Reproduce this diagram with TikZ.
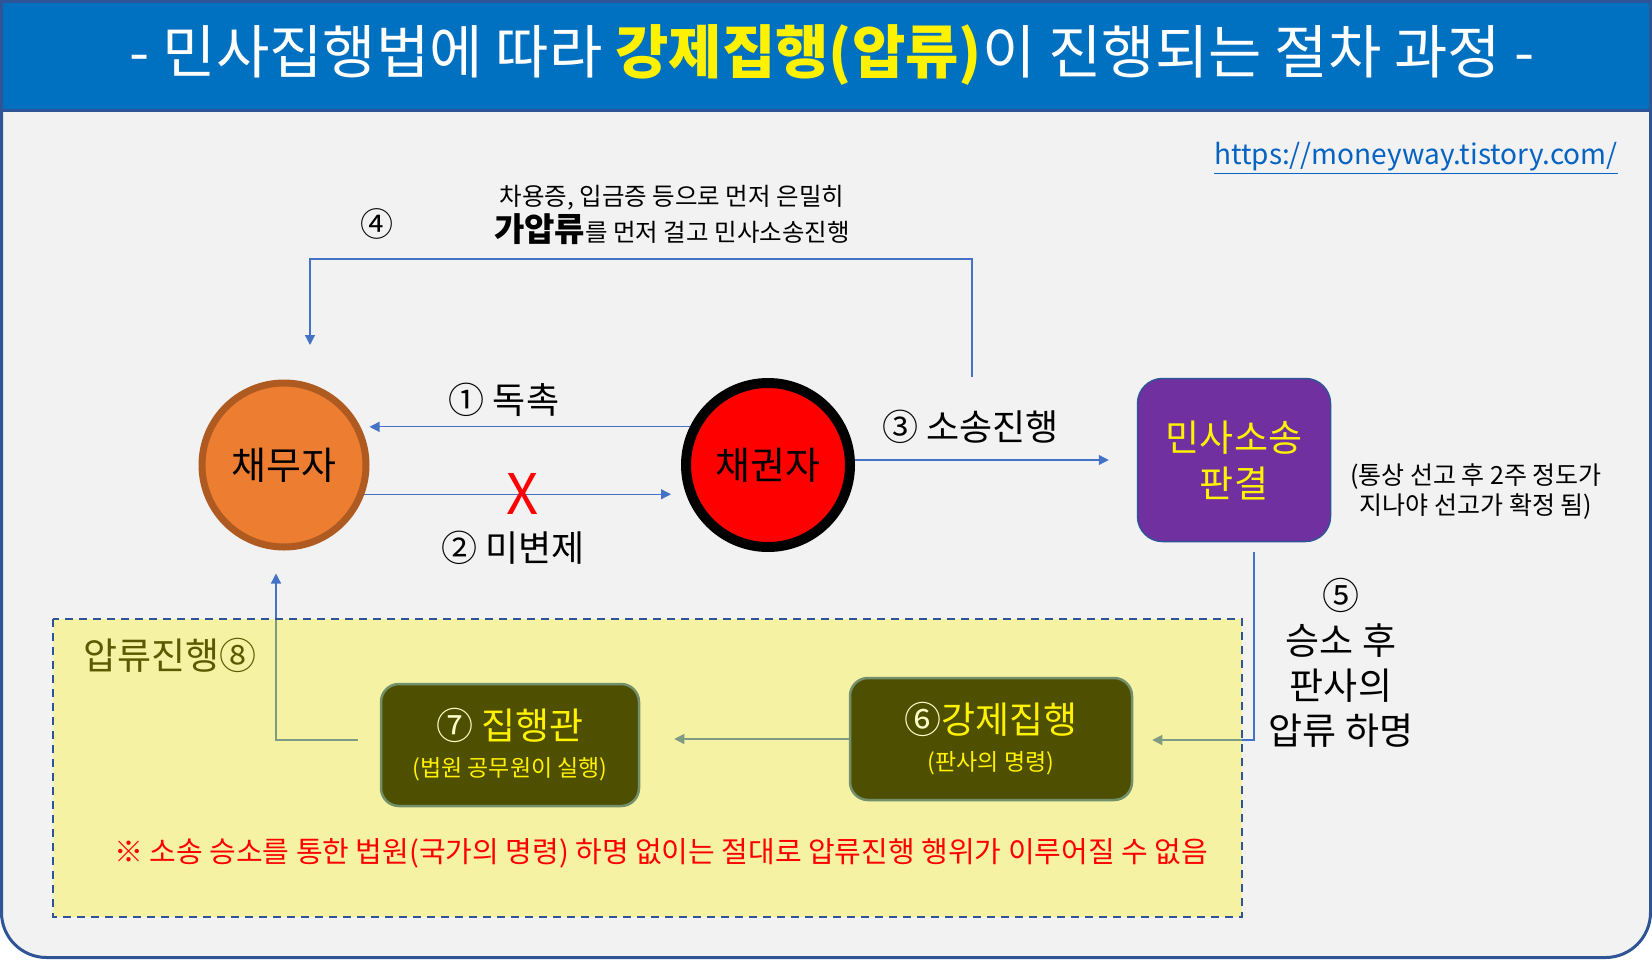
\documentclass[tikz,border=0pt]{standalone}
\usepackage{fontspec}
\setmainfont{Noto Sans CJK KR}
\usepackage{tikz}
\usetikzlibrary{arrows.meta, positioning, backgrounds}
\definecolor{cband}{HTML}{0070C0}
\definecolor{cframe}{HTML}{2F5597}
\definecolor{cpaper}{HTML}{F2F2F2}
\definecolor{cline}{HTML}{4472C4}
\definecolor{corange}{HTML}{ED7D31}
\definecolor{cbrown}{HTML}{AE5A21}
\definecolor{cpurple}{HTML}{7030A0}
\definecolor{colive}{HTML}{4F4F00}
\definecolor{coliveedge}{HTML}{71906B}
\definecolor{colivetext}{HTML}{5A5A00}
\definecolor{cpale}{HTML}{FFFFCC}
\definecolor{curl}{HTML}{0563C1}
\newcommand{\fsz}[2]{\fontsize{#1}{#2}\selectfont}

\begin{document}
\begin{tikzpicture}[
    x=1pt, y=-1pt,
    >={Triangle[length=10pt,width=10pt]},
    flow/.style={->, line width=1.2pt, draw=cline},
    party/.style={
        circle, minimum size=164pt, inner sep=0pt,
        font=\fsz{38}{44}
    },
    court/.style={
        rectangle, rounded corners=25pt, fill=cpurple, draw=cframe,
        line width=1.5pt, minimum width=193pt, minimum height=163pt,
        text=yellow, font=\fsz{37}{46}, align=center
    },
    execbox/.style={
        rectangle, rounded corners=18pt, fill=colive, draw=coliveedge,
        line width=2.5pt, minimum height=122pt, text=yellow,
        font=\fsz{23}{37}, align=center
    },
    flabel/.style={font=\fsz{36}{40}, inner sep=2pt},
]

\useasboundingbox (0,0) rectangle (1652,959);

% --- Frame and title band (bottom layer) --------------------------------------
\begin{pgfonlayer}{background}
\draw[fill=cpaper, draw=cframe, line width=3pt, rounded corners=45pt]
    (1.5,1.5) rectangle (1650.5,957.5);
\draw[fill=cband, draw=cframe, line width=3pt]
    (1.5,1.5) rectangle (1650.5,110);
\end{pgfonlayer}
\node[text=white, font=\fsz{58}{64}] (title) at (832,55)
    {- 민사집행법에 따라 {\color{yellow}\bfseries 강제집행(압류)}이 진행되는 절차 과정 -};
\node[text=curl, font=\fsz{28}{32}] (url) at (1416,158)
    {\underline{https://moneyway.tistory.com/}};

% --- Seizure area (pale overlay, drawn over the connectors) ------------------
\fill[yellow, fill opacity=0.32] (53,619) rectangle (1242,917);
\draw[cframe, line width=2.5pt, dash pattern=on 8pt off 6pt]
    (53,619) rectangle (1242,917);
\node[text=colivetext, font=\fsz{37}{42}, anchor=west] (seize) at (80,655)
    {압류진행⑧};

% --- Parties -----------------------------------------------------------------
\node[party, fill=corange, draw=cbrown, line width=7pt] (debtor) at (284,465)
    {채무자};
\node[party, fill=red, draw=black, line width=10pt] (creditor) at (768,465)
    {채권자};

% --- Court and execution boxes -------------------------------------------
\node[court] (judgment) at (1234,460) {민사소송\\판결};
\node[font=\fsz{25}{30}, align=center] (note) at (1476,492)
    {(통상 선고 후 2주 정도가\\지나야 선고가 확정 됨)};

\node[execbox, minimum width=282pt] (enforce) at (991,739)
    {{\fsz{37}{37}{\color{cpale}⑥}강제집행}\\(판사의 명령)};
\node[execbox, minimum width=258pt] (bailiff) at (510,745)
    {{\fsz{37}{37}{\color{cpale}⑦} 집행관}\\(법원 공무원이 실행)};

% --- Step labels ---------------------------------------------------------------
\node[font=\fsz{24.5}{36}, align=center] (prelim) at (672,215)
    {차용증, 입금증 등으로 먼저 은밀히\\
     {\fsz{33}{36}\bfseries 가압류}를 먼저 걸고 민사소송진행};
\node[font=\fsz{33}{36}] (step4) at (377,224) {④};
\node[font=\fsz{37}{45}, align=center] (step5) at (1341,663)
    {⑤\\승소 후\\판사의\\압류 하명};
\node[text=red, font=\fsz{29}{32}] (warn) at (661,853)
    {※ 소송 승소를 통한 법원(국가의 명령) 하명 없이는 절대로 압류진행 행위가 이루어질 수 없음};

% --- Free ends of the preliminary seizure line -------------------------------
\coordinate (c4from) at (972,377);
\coordinate (c4to)   at (310,345);
\coordinate (c5from) at (1254,552);

% --- Connectors (behind the overlay) ----------------------------------------
\begin{pgfonlayer}{background}
\draw[flow] (creditor.154) -- node[flabel, above=8pt, pos=0.58]{① 독촉}
    (creditor.154 -| debtor.east);
\draw[flow, shorten >=10pt] (debtor.-20) --
    node[text=red, font=\fsz{56}{60}, inner sep=0pt]{X}
    node[flabel, below=34pt, pos=0.47]{② 미변제}
    (debtor.-20 -| creditor.west);
\draw[flow, shorten >=28pt] ([yshift=5pt]creditor.east) --
    node[flabel, above=14pt, pos=0.41]{③ 소송진행}
    ([yshift=5pt]creditor.east -| judgment.west);
\draw[flow] (c4from) |- (c4from |- 0,259) -| (c4to);
\draw[flow, shorten >=19pt] (c5from) |- ([yshift=-1pt]enforce.east);
\draw[flow, shorten >=34pt] (enforce.west) -- (enforce.west -| bailiff.east);
\draw[flow, shorten <=22pt, shorten >=23pt] ([yshift=5pt]bailiff.west)
    -| ([xshift=-8pt]debtor.south);
\end{pgfonlayer}

\end{tikzpicture}
\end{document}
